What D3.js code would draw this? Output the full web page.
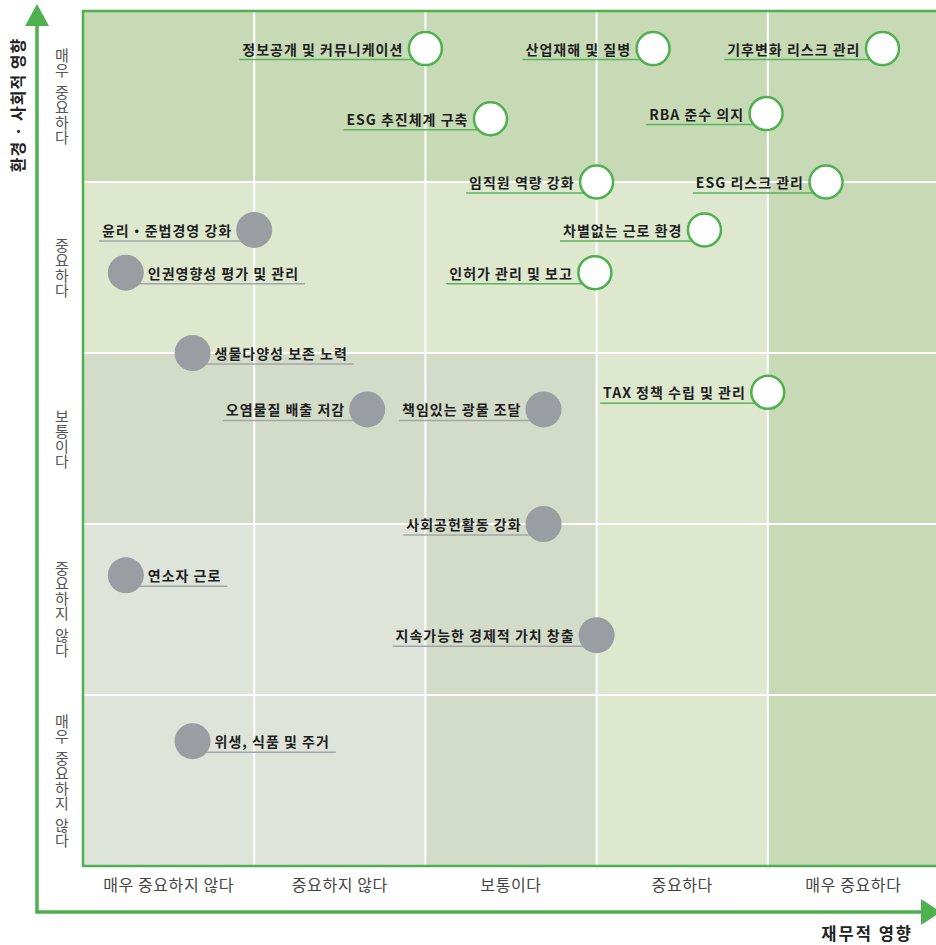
<!DOCTYPE html>
<html>
<head>
<meta charset="utf-8">
<script src="https://cdn.jsdelivr.net/npm/d3@7"></script>
<style>
  body { margin: 0; background: #fff; }
  text { font-family: "Noto Sans CJK KR", "Noto Sans", sans-serif; }
</style>
</head>
<body>
<svg id="chart"></svg>
<script>
// importance levels, low -> high (used on both axes)
const levels = ["매우 중요하지 않다", "중요하지 않다", "보통이다", "중요하다", "매우 중요하다"];

// issues
const issues = [
  "정보공개 및 커뮤니케이션", "산업재해 및 질병", "기후변화 리스크 관리", "ESG 추진체계 구축",
  "RBA 준수 의지", "임직원 역량 강화", "ESG 리스크 관리", "차별없는 근로 환경",
  "인허가 관리 및 보고", "TAX 정책 수립 및 관리",
  "윤리・준법경영 강화", "인권영향성 평가 및 관리", "생물다양성 보존 노력", "오염물질 배출 저감",
  "책임있는 광물 조달", "사회공헌활동 강화", "연소자 근로", "지속가능한 경제적 가치 창출", "위생, 식품 및 주거"
];
// financial impact (x), 0..5
const finImpact = [2.0, 3.33, 4.67, 2.38, 3.99, 3.0, 4.34, 3.63, 2.99, 4.0,
                   1.0, 0.25, 0.64, 1.66, 2.69, 2.69, 0.25, 3.0, 0.64];
// environmental / social impact (y), 0..5
const socImpact = [4.78, 4.78, 4.78, 4.37, 4.40, 4.0, 4.0, 3.72, 3.47, 2.77,
                   3.72, 3.47, 3.0, 2.67, 2.67, 2.0, 1.70, 1.35, 0.73];
// material issue or not
const material = [true, true, true, true, true, true, true, true, true, true,
                  false, false, false, false, false, false, false, false, false];

const cellColors = ["#dfe4da", "#dfe4da", "#d3dcc9", "#dde8cf", "#c7dab5"];

const width = 936;
const height = 945;
const marginLeft = 83;
const marginTop = 11;
const plotRight = 939;
const plotBottom = 866;
const green = "#4fb04f";

const svg = d3.select("#chart")
  .attr("width", width)
  .attr("height", height)
  .attr("viewBox", [0, 0, width, height]);

const x = d3.scaleLinear().domain([0, 5]).range([marginLeft, plotRight]);
const y = d3.scaleLinear().domain([0, 5]).range([plotBottom, marginTop]);
const xBand = d3.scaleBand().domain(levels).range([marginLeft, plotRight]);
const yBand = d3.scaleBand().domain(levels).range([plotBottom, marginTop]);

// background cells, shade = max of the two levels
const cells = d3.cross(d3.range(5), d3.range(5));
svg.append("g")
  .selectAll("rect")
  .data(cells)
  .join("rect")
    .attr("x", d => x(d[0]))
    .attr("y", d => y(d[1] + 1))
    .attr("width", d => x(d[0] + 1) - x(d[0]))
    .attr("height", d => y(d[1]) - y(d[1] + 1))
    .attr("fill", d => cellColors[Math.max(d[0], d[1])]);

// white grid lines
const grid = svg.append("g").attr("stroke", "#fff").attr("stroke-width", 2);
grid.selectAll(".gx")
  .data(d3.range(1, 5))
  .join("line")
    .attr("x1", d => x(d)).attr("x2", d => x(d))
    .attr("y1", marginTop).attr("y2", plotBottom);
grid.selectAll(".gy")
  .data(d3.range(1, 5))
  .join("line")
    .attr("x1", marginLeft).attr("x2", plotRight)
    .attr("y1", d => y(d)).attr("y2", d => y(d));

// plot frame
svg.append("path")
  .attr("fill", "none")
  .attr("stroke", green)
  .attr("stroke-width", 2.5)
  .attr("d", `M${plotRight},${marginTop}H${marginLeft}V${plotBottom}H${plotRight}`);

// x tick labels
svg.append("g")
  .attr("transform", `translate(0,${plotBottom})`)
  .call(d3.axisBottom(xBand).tickSize(0).tickPadding(14))
  .call(g => g.select(".domain").remove())
  .call(g => g.selectAll("text")
    .attr("font-family", "Noto Sans CJK KR")
    .attr("font-size", 16)
    .attr("letter-spacing", 0.6)
    .attr("fill", "#444"));

// y tick labels, written vertically word by word
const charStep = 15, wordGap = 7;
const yTicks = svg.append("g")
  .selectAll("g")
  .data(levels)
  .join("g")
    .attr("transform", d => `translate(${marginLeft - 21},${yBand(d) + yBand.bandwidth() / 2})`);
yTicks.each(function(label) {
  const words = label.split(" ");
  const total = d3.sum(words, w => w.length * charStep) + (words.length - 1) * wordGap;
  let pos = -total / 2;
  words.forEach(w => {
    d3.select(this).append("text")
      .attr("x", 0)
      .attr("y", pos)
      .attr("style", "writing-mode: vertical-rl; text-orientation: upright;")
      .attr("font-size", 15)
      .attr("fill", "#555")
      .text(w);
    pos += w.length * charStep + wordGap;
  });
});

// axis arrows
const axes = svg.append("g");
axes.append("path")
  .attr("fill", "none")
  .attr("stroke", green)
  .attr("stroke-width", 3.5)
  .attr("d", "M37,20V912H924");
axes.append("path")
  .attr("fill", green)
  .attr("d", "M37,4L25,26H49Z");
axes.append("path")
  .attr("fill", green)
  .attr("d", "M941,912L921,899V925Z");

// axis titles
svg.append("text")
  .attr("transform", "translate(24,105) rotate(-90)")
  .attr("text-anchor", "middle")
  .attr("font-size", 16)
  .attr("letter-spacing", 1)
  .attr("font-weight", "bold")
  .attr("fill", "#222")
  .text("환경 · 사회적 영향");

svg.append("text")
  .attr("x", 913)
  .attr("y", 940)
  .attr("text-anchor", "end")
  .attr("font-size", 16.5)
  .attr("letter-spacing", 2)
  .attr("font-weight", "bold")
  .attr("fill", "#222")
  .text("재무적 영향");

// points + labels
const points = issues.map((name, i) => ({
  name, fx: finImpact[i], sy: socImpact[i], material: material[i],
  right: finImpact[i] < 0.8
}));

const lines = svg.append("g");
const dots = svg.append("g");
const labels = svg.append("g");

labels.selectAll("text")
  .data(points)
  .join("text")
    .attr("x", d => d.right ? x(d.fx) + 22 : x(d.fx) - 22)
    .attr("y", d => y(d.sy) + 6)
    .attr("text-anchor", d => d.right ? "start" : "end")
    .attr("font-size", 14)
    .attr("letter-spacing", 1)
    .attr("font-weight", "bold")
    .attr("fill", "#1e1e1e")
    .text(d => d.name)
    .each(function(d) { d.w = this.getComputedTextLength(); });

lines.selectAll("line")
  .data(points)
  .join("line")
    .attr("x1", d => d.right ? x(d.fx) : x(d.fx) - 22 - d.w - 3)
    .attr("x2", d => d.right ? x(d.fx) + 22 + d.w + 6 : x(d.fx))
    .attr("y1", d => y(d.sy) + 11)
    .attr("y2", d => y(d.sy) + 11)
    .attr("stroke", d => d.material ? "#5ab55a" : "#a3a6a8")
    .attr("stroke-width", 1.5);

dots.selectAll("circle")
  .data(points)
  .join("circle")
    .attr("cx", d => x(d.fx))
    .attr("cy", d => y(d.sy))
    .attr("r", d => d.material ? 16.5 : 18)
    .attr("fill", d => d.material ? "#fff" : "#9a9da1")
    .attr("stroke", d => d.material ? green : "none")
    .attr("stroke-width", 2.5);
</script>
</body>
</html>
